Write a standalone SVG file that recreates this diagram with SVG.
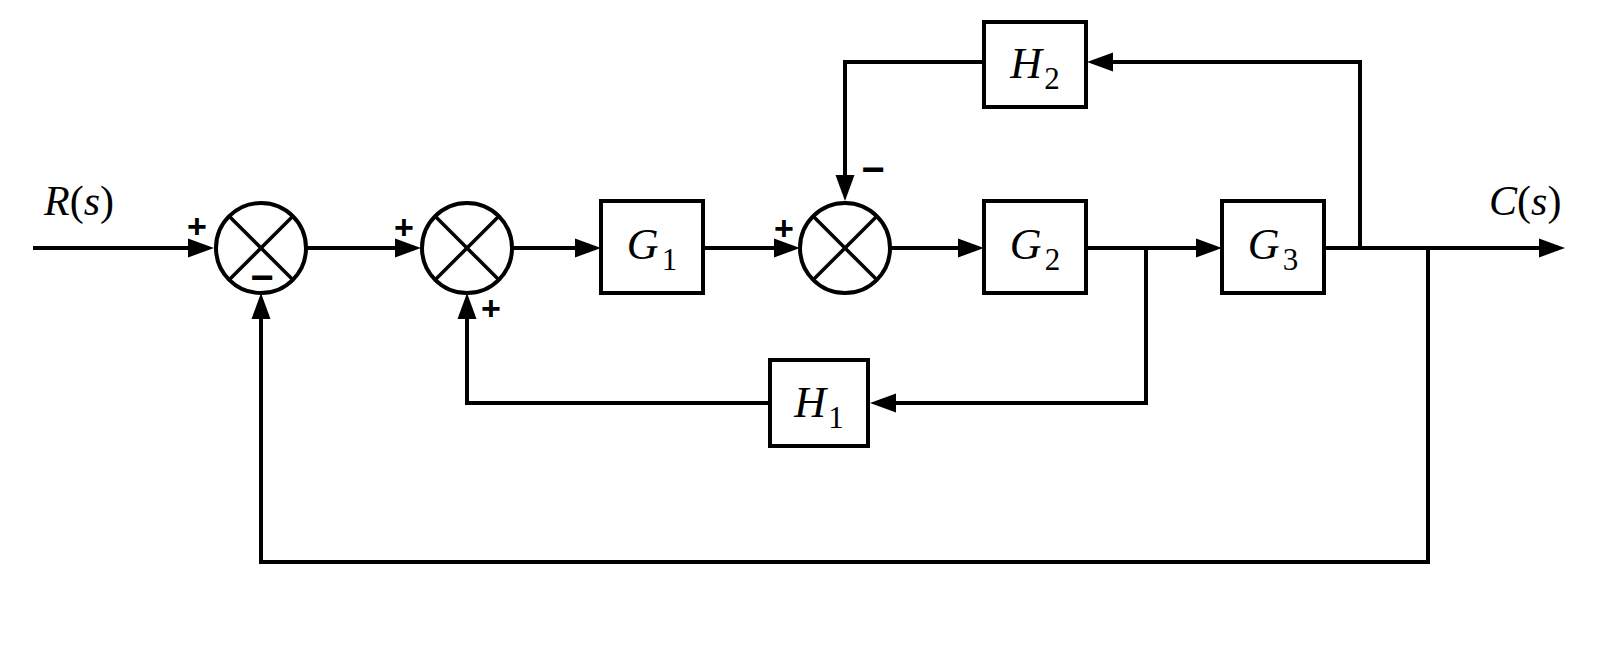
<svg xmlns="http://www.w3.org/2000/svg" width="1600" height="646" viewBox="0 0 1600 646">
<style>
.box{fill:#fff;stroke:#000;stroke-width:4}
.sum{fill:#fff;stroke:#000;stroke-width:4}
.x{stroke:#000;stroke-width:3.5}
.wire{fill:none;stroke:#000;stroke-width:4;marker-end:url(#ah)}
.lbl{font-family:"Liberation Serif","Times New Roman",serif;font-size:44px;fill:#000}
.io{font-size:42px}
.it{font-style:italic}
.sub{font-size:31px;font-style:normal}
.sg{font-family:"Liberation Sans",Arial,sans-serif;font-weight:bold;fill:#000;text-anchor:middle}
.pl{font-size:34px}
.mn{font-size:40px}
</style>
<defs>
<marker id="ah" markerUnits="userSpaceOnUse" viewBox="0 -10 26 20" refX="0" refY="0" markerWidth="26" markerHeight="20" orient="auto" overflow="visible">
<path d="M0,-9.5 L26,0 L0,9.5 Z" fill="#000"/>
</marker>
</defs>
<rect width="1600" height="646" fill="#fff"/>
<g id="connectors">
<path class="wire" d="M33,248 H188"/>
<path class="wire" d="M306,248 H395"/>
<path class="wire" d="M512,248 H575"/>
<path class="wire" d="M703,248 H774"/>
<path class="wire" d="M890,248 H958"/>
<path class="wire" d="M1086,248 H1196"/>
<path class="wire" d="M1324,248 H1539"/>
<path class="wire" d="M1146,248 V403 H896"/>
<path class="wire" d="M770,403 H467 V319"/>
<path class="wire" d="M1360,248 V62 H1113"/>
<path class="wire" d="M984,62 H845 V175"/>
<path class="wire" d="M1428,248 V562 H261 V319"/>
</g>
<g id="sum1">
<circle class="sum" cx="261" cy="248" r="45"/>
<line class="x" x1="229.2" y1="216.2" x2="292.8" y2="279.8"/>
<line class="x" x1="229.2" y1="279.8" x2="292.8" y2="216.2"/>
<text class="sg pl" x="197" y="238">+</text>
<text class="sg mn" x="262" y="291">−</text>
</g>
<g id="sum2">
<circle class="sum" cx="467" cy="248" r="45"/>
<line class="x" x1="435.2" y1="216.2" x2="498.8" y2="279.8"/>
<line class="x" x1="435.2" y1="279.8" x2="498.8" y2="216.2"/>
<text class="sg pl" x="404" y="239">+</text>
<text class="sg pl" x="491" y="320">+</text>
</g>
<g id="sum3">
<circle class="sum" cx="845" cy="248" r="45"/>
<line class="x" x1="813.2" y1="216.2" x2="876.8" y2="279.8"/>
<line class="x" x1="813.2" y1="279.8" x2="876.8" y2="216.2"/>
<text class="sg pl" x="784" y="240">+</text>
<text class="sg mn" x="873" y="183">−</text>
</g>
<g id="G1">
<rect class="box" x="601" y="201" width="102" height="92"/>
<text class="lbl" x="652" y="259" text-anchor="middle"><tspan class="it">G</tspan><tspan class="sub" dx="3" dy="11">1</tspan></text>
</g>
<g id="G2">
<rect class="box" x="984" y="201" width="102" height="92"/>
<text class="lbl" x="1035" y="259" text-anchor="middle"><tspan class="it">G</tspan><tspan class="sub" dx="3" dy="11">2</tspan></text>
</g>
<g id="G3">
<rect class="box" x="1222" y="201" width="102" height="92"/>
<text class="lbl" x="1273" y="259" text-anchor="middle"><tspan class="it">G</tspan><tspan class="sub" dx="3" dy="11">3</tspan></text>
</g>
<g id="H2">
<rect class="box" x="984" y="22" width="102" height="85"/>
<text class="lbl" x="1035" y="78" text-anchor="middle"><tspan class="it">H</tspan><tspan class="sub" dx="2" dy="11">2</tspan></text>
</g>
<g id="H1">
<rect class="box" x="770" y="360" width="98" height="86"/>
<text class="lbl" x="819" y="417" text-anchor="middle"><tspan class="it">H</tspan><tspan class="sub" dx="2" dy="11">1</tspan></text>
</g>
<g id="labels">
<text class="lbl io" x="44" y="215"><tspan class="it">R</tspan>(<tspan class="it">s</tspan>)</text>
<text class="lbl io" x="1489" y="215"><tspan class="it">C</tspan>(<tspan class="it">s</tspan>)</text>
</g>
</svg>
